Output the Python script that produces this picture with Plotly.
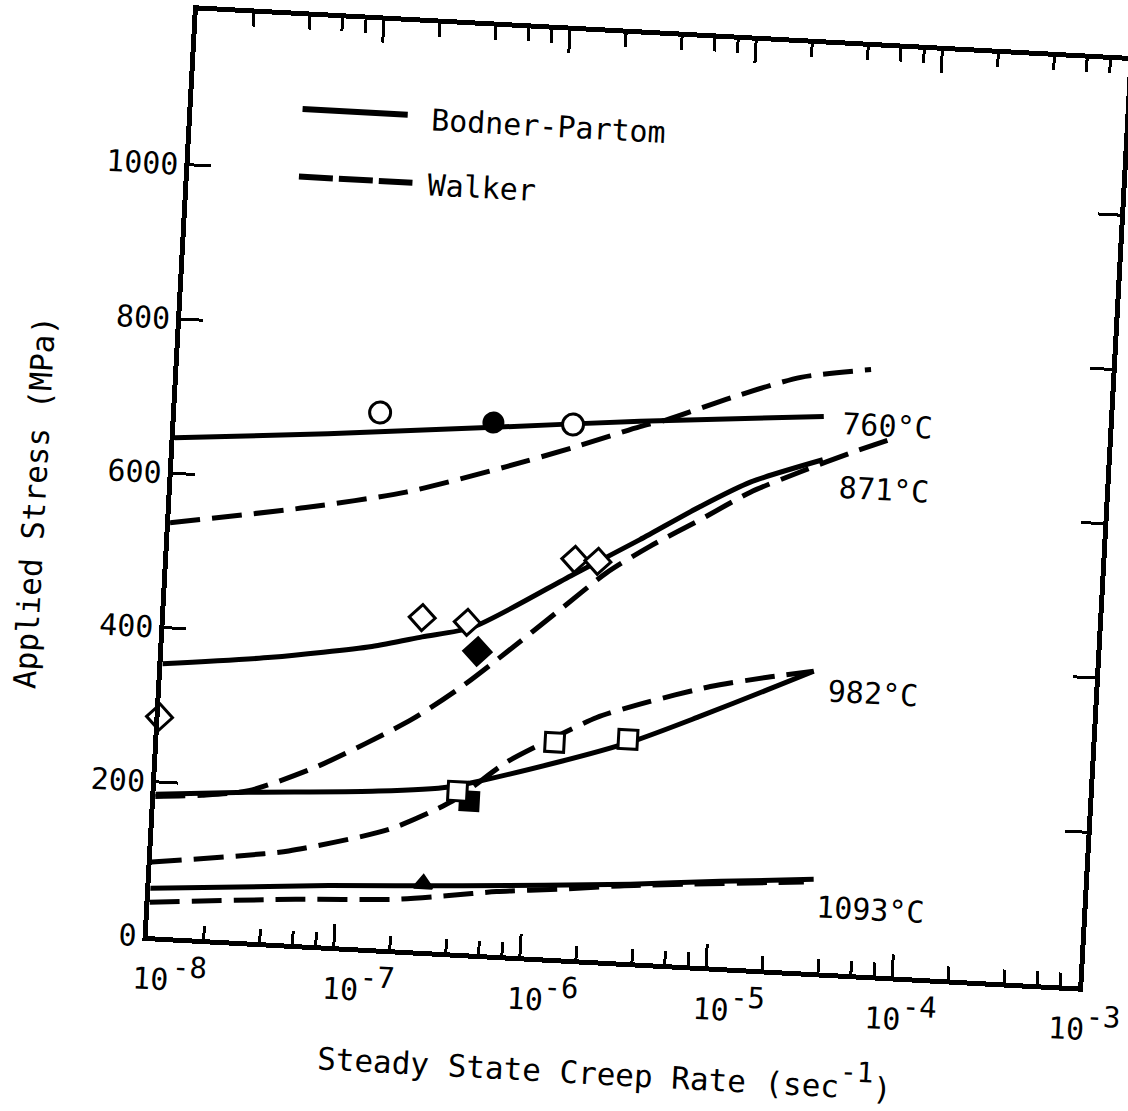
import plotly.graph_objects as go

# Steady-state creep rate (1/s) versus applied stress (MPa) for four temperatures.
# Model curves: Bodner-Partom (solid) and Walker (dashed).

# 760 °C
bp760_rate = [1.0e-8, 6.6e-8, 5.07e-7, 3.08e-6, 2.96e-5]
bp760_stress = [646, 662, 682, 700, 719]
wk760_rate = [1.0e-8, 5.27e-8, 1.80e-7, 6.11e-7, 1.36e-6, 3.09e-6, 4.30e-6, 9.59e-6, 2.17e-5, 5.14e-5]
wk760_stress = [536, 565, 592, 632, 661, 693, 704, 738, 768, 783]

# 871 °C
bp871_rate = [1.0e-8, 3.82e-8, 1.31e-7, 2.42e-7, 4.47e-7, 1.49e-6, 3.33e-6, 6.85e-6, 1.25e-5, 3.01e-5]
bp871_stress = [353, 369, 390, 406, 422, 497, 547, 594, 629, 663]
wk871_rate = [1.0e-8, 1.78e-8, 3.15e-8, 7.36e-8, 2.26e-7, 4.10e-7, 6.92e-7, 1.25e-6, 2.26e-6,
              3.78e-6, 6.92e-6, 1.26e-5, 2.31e-5, 4.24e-5, 7.50e-5]
wk871_stress = [181, 186, 195, 232, 299, 345, 392, 447, 502, 539, 577, 616, 646, 674, 698]

# 982 °C
bp982_rate = [1.0e-8, 3.15e-8, 1.45e-7, 3.74e-7, 1.38e-6, 3.50e-6, 7.89e-6, 1.78e-5, 3.10e-5]
bp982_stress = [184, 193, 203, 214, 253, 286, 323, 362, 389]
wk982_rate = [1.0e-8, 2.90e-8, 5.38e-8, 1.83e-7, 3.92e-7, 7.45e-7, 1.21e-6, 2.2e-6, 3.68e-6,
              8.75e-6, 1.76e-5, 3.10e-5]
wk982_stress = [96, 110, 120, 155, 196, 250, 280, 314, 334, 362, 378, 389]

# 1093 °C
bp1093_rate = [1.0e-8, 9.04e-8, 4.70e-7, 3.72e-6, 1.13e-5, 3.56e-5]
bp1093_stress = [62, 78, 87, 101, 111, 120]
wk1093_rate = [1.0e-8, 6.05e-8, 2.09e-7, 3.87e-7, 7.18e-7, 1.62e-6, 3.28e-6, 3.16e-5]
wk1093_stress = [44, 58, 65, 73, 82, 90, 98, 116]

# Experimental points
open_circle_rate = [1.24e-7, 1.35e-6]
open_circle_stress = [693, 691]
filled_circle_rate = [5.05e-7]
filled_circle_stress = [688]
open_diamond_rate = [1.0e-8, 2.39e-7, 4.18e-7, 1.51e-6, 2.01e-6]
open_diamond_stress = [284, 431, 428, 517, 516]
filled_diamond_rate = [4.83e-7]
filled_diamond_stress = [391]
open_square_rate = [4.15e-7, 1.33e-6, 3.28e-6]
open_square_stress = [209, 279, 288]
filled_square_rate = [4.83e-7]
filled_square_stress = [197]
filled_triangle_rate = [2.89e-7]
filled_triangle_stress = [87]

# Curve labels (log10 of rate, stress)
temp_labels = ["760°C", "871°C", "982°C", "1093°C"]
temp_label_logx = [-4.44, -4.44, -4.44, -4.44]
temp_label_stress = [711, 629, 365, 85]

# Axis ticks
x_major = [1e-8, 1e-7, 1e-6, 1e-5, 1e-4, 1e-3]
x_major_logx = [-8, -7, -6, -5, -4, -3]
x_exponents = ["-8", "-7", "-6", "-5", "-4", "-3"]
x_minor = [m * d for d in [1e-8, 1e-7, 1e-6, 1e-5, 1e-4] for m in (2, 4, 6, 8)]
y_ticks = [0, 200, 400, 600, 800, 1000]

FONT = "DejaVu Sans Mono"
LW = 5
DASH = "30px,12px"

# Hand-lettered tick labels: small horizontal offsets (px) of the base and the exponent
base_shift = [5, 9, 7, 7, -8, -10]
exp_shift = [43, 45, 43, 43, 29, 26]

fig = go.Figure()

curves = [
    (bp760_rate, bp760_stress, "solid"),
    (wk760_rate, wk760_stress, DASH),
    (bp871_rate, bp871_stress, "solid"),
    (wk871_rate, wk871_stress, DASH),
    (bp982_rate, bp982_stress, "solid"),
    (wk982_rate, wk982_stress, DASH),
    (bp1093_rate, bp1093_stress, "solid"),
    (wk1093_rate, wk1093_stress, DASH),
]
for xs, ys, dash in curves:
    fig.add_trace(go.Scatter(
        x=xs, y=ys, mode="lines",
        line=dict(color="black", width=LW, dash=dash, shape="spline", smoothing=0.7),
        showlegend=False, hoverinfo="skip",
    ))

markers = [
    (open_circle_rate, open_circle_stress, "circle", "white", 21),
    (filled_circle_rate, filled_circle_stress, "circle", "black", 19),
    (open_diamond_rate, open_diamond_stress, "diamond", "white", 20),
    (filled_diamond_rate, filled_diamond_stress, "diamond", "black", 21),
    (filled_square_rate, filled_square_stress, "square", "black", 18),
    (open_square_rate, open_square_stress, "square", "white", 19),
    (filled_triangle_rate, filled_triangle_stress, "triangle-up", "black", 16),
]
for xs, ys, sym, fill, size in markers:
    fig.add_trace(go.Scatter(
        x=xs, y=ys, mode="markers",
        marker=dict(symbol=sym, size=size, color=fill,
                    line=dict(color="black", width=3)),
        showlegend=False, hoverinfo="skip", cliponaxis=False,
    ))

for txt, lx, sy in zip(temp_labels, temp_label_logx, temp_label_stress):
    fig.add_annotation(x=lx, y=sy, xref="x", yref="y", text=txt, showarrow=False,
                       xanchor="left", yanchor="middle",
                       font=dict(family=FONT, size=30, color="black"))

# Decade labels "10" with a raised, full-size exponent
for lx, ex, bs, es in zip(x_major_logx, x_exponents, base_shift, exp_shift):
    fig.add_annotation(x=lx, y=-0.046, xref="x", yref="paper", text="10", showarrow=False,
                       xanchor="center", yanchor="middle", xshift=bs,
                       font=dict(family=FONT, size=30, color="black"))
    fig.add_annotation(x=lx, y=-0.031, xref="x", yref="paper", text=ex, showarrow=False,
                       xanchor="center", yanchor="middle", xshift=es,
                       font=dict(family=FONT, size=29, color="black"))

# Key for the two models
fig.add_shape(type="line", xref="paper", yref="paper", x0=0.118, x1=0.231, y0=0.900, y1=0.900,
              line=dict(color="black", width=6))
fig.add_shape(type="line", xref="paper", yref="paper", x0=0.118, x1=0.240, y0=0.827, y1=0.827,
              line=dict(color="black", width=6, dash="34px,6px"))
fig.add_annotation(x=0.254, y=0.896, xref="paper", yref="paper", text="Bodner-Partom",
                   showarrow=False, xanchor="left", yanchor="middle",
                   font=dict(family=FONT, size=30, color="black"))
fig.add_annotation(x=0.254, y=0.826, xref="paper", yref="paper", text="Walker",
                   showarrow=False, xanchor="left", yanchor="middle",
                   font=dict(family=FONT, size=30, color="black"))

# Axis titles
fig.add_annotation(x=0.497, y=-0.114, xref="paper", yref="paper",
                   text="Steady State Creep Rate (sec<span style='font-size:40px'><sup>-1</sup></span>)",
                   showarrow=False, xanchor="center", yanchor="middle",
                   font=dict(family=FONT, size=31, color="black"))
fig.add_annotation(x=-0.147, y=0.461, xref="paper", yref="paper",
                   text="Applied Stress (MPa)", textangle=-90,
                   showarrow=False, xanchor="center", yanchor="middle",
                   font=dict(family=FONT, size=31, color="black"))

fig.update_xaxes(
    type="log", range=[-8, -3], automargin=False,
    tickmode="array", tickvals=x_major, showticklabels=False,
    ticks="inside", ticklen=22, tickwidth=3, tickcolor="black",
    minor=dict(tickmode="array", tickvals=x_minor, ticks="inside", ticklen=13,
               tickwidth=3, tickcolor="black", showgrid=False),
    showline=True, linewidth=5, linecolor="black", mirror="ticks",
    showgrid=False, zeroline=False,
)
fig.update_yaxes(
    range=[0, 1200], tickmode="array", tickvals=y_ticks, automargin=False,
    ticks="inside", ticklen=22, tickwidth=3, tickcolor="black",
    showline=True, linewidth=5, linecolor="black", mirror="ticks",
    showgrid=False, zeroline=False,
    tickfont=dict(family=FONT, size=30, color="black"),
)

# Drawing surface is a little wider than the window so the right edge survives the tilt.
fig.update_layout(
    width=1170, height=1111,
    margin=dict(l=172, r=66, t=35, b=149, autoexpand=False),
    paper_bgcolor="white", plot_bgcolor="white",
    font=dict(family=FONT, color="black"),
)

# The printed chart sits slightly turned on the page.
tilt = """
var gd = document.getElementById('{plot_id}');
document.documentElement.style.overflow = 'hidden';
document.body.style.margin = '0';
document.body.style.overflow = 'hidden';
gd.style.transformOrigin = '638px 499px';
gd.style.transform = 'rotate(3.1deg)';
"""

fig.write_html("out.html", post_script=tilt)
